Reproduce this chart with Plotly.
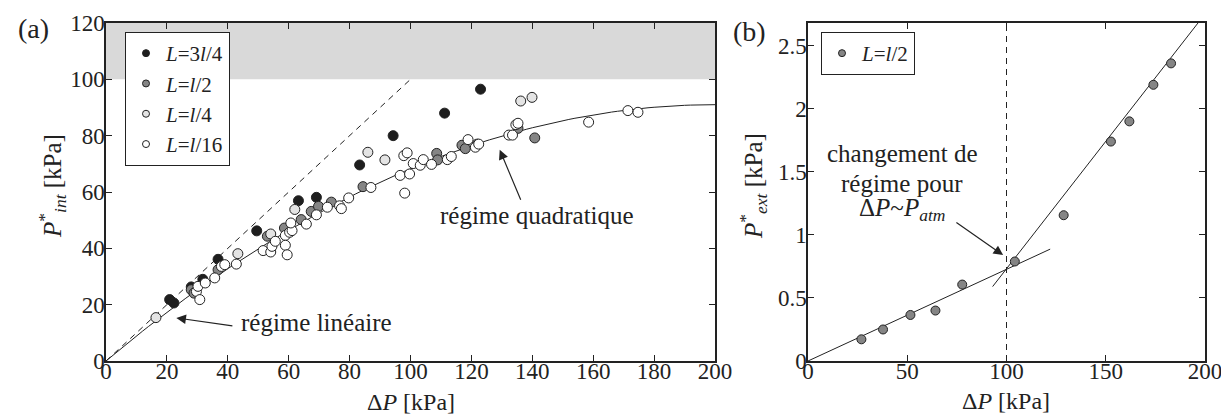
import plotly.graph_objects as go

# ---------------- Panel (a) data ----------------
black_x = [20.9, 22.3, 28.0, 31.8, 36.8, 49.5, 63.2, 69.1, 83.3, 94.3, 111.2, 123.0]
black_y = [21.8, 20.6, 26.3, 29.0, 36.1, 46.2, 56.9, 58.1, 69.6, 80.0, 88.0, 96.5]

dgray_x = [28.0, 28.9, 36.8, 53.0, 58.6, 64.1, 67.4, 69.8, 74.0, 84.4, 108.6, 108.9,
           116.9, 118.0, 121.9, 135.3, 140.8]
dgray_y = [25.3, 24.1, 32.4, 44.3, 47.2, 50.2, 53.1, 54.9, 56.4, 61.9, 73.7, 71.4,
           76.6, 75.4, 77.0, 82.6, 79.2]

lgray_x = [16.4, 43.3, 54.1, 62.0, 86.0, 91.6, 136.2, 139.9]
lgray_y = [15.4, 38.1, 45.1, 53.8, 74.1, 71.4, 92.3, 93.6]

white_x = [29.7, 30.2, 30.8, 32.6, 35.7, 37.9, 39.0, 42.8, 51.6, 54.1, 54.5, 55.6,
           58.9, 58.9, 59.5, 60.3, 61.1, 60.7, 65.8, 69.1, 72.7, 76.7, 77.3, 79.7,
           87.0, 96.6, 98.1, 99.7, 97.8, 98.9, 100.9, 103.2, 104.2, 106.9, 112.1,
           113.4, 118.9, 121.3, 122.4, 132.3, 133.5, 134.6, 135.3, 158.5, 171.4, 174.7]
white_y = [24.7, 26.5, 21.8, 27.7, 29.5, 33.6, 34.2, 34.4, 39.2, 38.7, 40.7, 42.5,
           44.6, 41.1, 37.7, 45.7, 46.3, 49.0, 48.6, 51.9, 54.6, 55.1, 54.1, 57.9,
           61.6, 65.9, 59.6, 66.4, 72.9, 73.9, 70.1, 69.5, 71.5, 69.8, 71.5,
           72.6, 78.6, 75.9, 77.0, 80.2, 80.2, 83.9, 84.4, 84.8, 88.9, 88.3]

# quadratic fit  y = a x - b x^2  and linear (slope 1) reference
quad_a, quad_b = 0.91, 0.002275
fit_x = [i * 2.0 for i in range(101)]
lin_x = [0, 100]

# ---------------- Panel (b) data ----------------
b_x = [26.9, 37.8, 51.6, 64.2, 77.7, 104.2, 128.8, 152.6, 161.9, 174.0, 182.9]
b_y = [0.172, 0.25, 0.365, 0.40, 0.606, 0.789, 1.156, 1.74, 1.90, 2.19, 2.36]

low_slope, low_x = 0.00727, [0, 122]
high_slope, high_x0, high_y0, high_x = 0.0202, 93.0, 0.59, [93.0, 196.5]

FONT = "Liberation Serif, Times New Roman, Tinos, DejaVu Serif, serif"
INK = "#222222"
TXT = 25

fig = go.Figure()

# ---- panel (a) ----
fig.add_trace(go.Scatter(x=lin_x, y=lin_x, mode="lines", showlegend=False,
                         line=dict(color=INK, width=1, dash="6px,5px"),
                         xaxis="x", yaxis="y"))
fig.add_trace(go.Scatter(x=fit_x, y=[quad_a * v - quad_b * v * v for v in fit_x],
                         mode="lines", showlegend=False,
                         line=dict(color=INK, width=1), xaxis="x", yaxis="y"))

series = [
    ("<i>L</i>=3<i>l</i>/4", black_x, black_y, "#1e1e1e"),
    ("<i>L</i>=<i>l</i>/2", dgray_x, dgray_y, "#858585"),
    ("<i>L</i>=<i>l</i>/4", lgray_x, lgray_y, "#e4e4e4"),
    ("<i>L</i>=<i>l</i>/16", white_x, white_y, "#ffffff"),
]
for name, xs, ys, col in series:
    fig.add_trace(go.Scatter(x=xs, y=ys, mode="markers", name=name, showlegend=False,
                             marker=dict(size=10, color=col, line=dict(color=INK, width=1)),
                             xaxis="x", yaxis="y"))
for name, xs, ys, col in series:
    fig.add_trace(go.Scatter(x=[None], y=[None], mode="markers", name=name,
                             legend="legend",
                             marker=dict(size=7, color=col, line=dict(color=INK, width=1)),
                             xaxis="x", yaxis="y"))

# ---- panel (b) ----
fig.add_trace(go.Scatter(x=[100, 100], y=[0, 2.68], mode="lines", showlegend=False,
                         line=dict(color=INK, width=1, dash="6px,5px"),
                         xaxis="x2", yaxis="y2"))
fig.add_trace(go.Scatter(x=low_x, y=[low_slope * v for v in low_x], mode="lines",
                         showlegend=False, line=dict(color=INK, width=1),
                         xaxis="x2", yaxis="y2"))
fig.add_trace(go.Scatter(x=high_x, y=[high_y0 + high_slope * (v - high_x0) for v in high_x],
                         mode="lines", showlegend=False, line=dict(color=INK, width=1),
                         xaxis="x2", yaxis="y2"))
fig.add_trace(go.Scatter(x=b_x, y=b_y, mode="markers", showlegend=False,
                         marker=dict(size=9, color="#858585", line=dict(color=INK, width=1)),
                         xaxis="x2", yaxis="y2"))
fig.add_trace(go.Scatter(x=[None], y=[None], mode="markers", name="<i>L</i>=<i>l</i>/2",
                         legend="legend2",
                         marker=dict(size=7, color="#858585", line=dict(color=INK, width=1)),
                         xaxis="x2", yaxis="y2"))

W, H = 1229, 415
ax_common = dict(showline=True, linecolor=INK, linewidth=1.5, mirror="allticks",
                 ticks="inside", ticklen=6, tickcolor=INK, tickwidth=1,
                 showgrid=False, zeroline=False, automargin=False,
                 tickfont=dict(family=FONT, size=23, color=INK))

fig.update_layout(
    width=W, height=H,
    margin=dict(l=0, r=0, t=0, b=0, pad=0, autoexpand=False),
    paper_bgcolor="white", plot_bgcolor="white",
    font=dict(family=FONT, size=21, color=INK),
    xaxis=dict(domain=[98 / W, 707 / W], range=[0, 200], tickvals=list(range(0, 201, 20)),
               anchor="y", ticklabelstandoff=-11, **ax_common),
    yaxis=dict(domain=[1 - 353 / H, 1 - 15 / H], range=[0, 120],
               tickvals=list(range(0, 121, 20)), anchor="x", ticklabelstandoff=-5, **ax_common),
    xaxis2=dict(domain=[800 / W, 1197 / W], range=[0, 200], tickvals=[0, 50, 100, 150, 200],
                anchor="y2", ticklabelstandoff=-11, **ax_common),
    yaxis2=dict(domain=[1 - 353 / H, 1 - 15 / H], range=[0, 2.68],
                tickvals=[0, 0.5, 1, 1.5, 2, 2.5], ticktext=["0", "0.5", "1", "1.5", "2", "2.5"],
                anchor="x2", ticklabelstandoff=-5, **ax_common),
    legend=dict(x=117 / W, y=1 - 24 / H, xanchor="left", yanchor="top",
                bgcolor="white", bordercolor=INK, borderwidth=1,
                font=dict(family=FONT, size=21, color=INK)),
    legend2=dict(x=813 / W, y=1 - 24 / H, xanchor="left", yanchor="top",
                 bgcolor="white", bordercolor=INK, borderwidth=1,
                 font=dict(family=FONT, size=21, color=INK)),
    shapes=[dict(type="rect", xref="x", yref="y", x0=0, x1=200, y0=100, y1=120,
                 fillcolor="#d9d9d9", line=dict(width=0), layer="below")],
)


def label(text, x, y, size=TXT, xref="paper", yref="paper", **kw):
    if xref == "paper":
        x = x / W
    if yref == "paper":
        y = 1 - y / H
    return dict(text=text, x=x, y=y, xref=xref, yref=yref, xanchor="center",
                yanchor="middle", showarrow=False, font=dict(family=FONT, size=size, color=INK), **kw)


def arrow(x, y, ax, ay, xref, yref):
    return dict(text="", x=x, y=y, ax=ax, ay=ay, xref=xref, yref=yref, axref=xref, ayref=yref,
                showarrow=True, arrowhead=2, arrowsize=1.6, arrowwidth=1.2, arrowcolor=INK)


ann = [
    # axis titles
    label("Δ<i>P</i> [kPa]", 402.5, 394, size=24),
    label("Δ<i>P</i> [kPa]", 998.5, 393, size=24),
    label("<i>P</i><sup>*</sup><sub><i>int</i></sub> [kPa]", 44, 178, textangle=-90),
    label("<i>P</i><sup>*</sup><sub><i>ext</i></sub> [kPa]", 745, 178, textangle=-90),
    # panel labels
    label("(a)", 26, 20, size=28),
    label("(b)", 741, 23, size=28),
    # panel (a) regimes
    label("régime linéaire", 69.0, 13.5, xref="x", yref="y"),
    arrow(23.1, 15.3, 42.0, 12.4, "x", "y"),
    label("régime quadratique", 141.5, 51.5, xref="x", yref="y"),
    arrow(129.3, 75.0, 136.4, 56.7, "x", "y"),
    # panel (b)
    label("changement de", 47.4, 1.648, xref="x2", yref="y2"),
    label("régime pour", 47.4, 1.41, xref="x2", yref="y2"),
    label("Δ<i>P</i>~<i>P</i><sub><i>atm</i></sub>", 47.4, 1.20, xref="x2", yref="y2"),
    arrow(98.3, 0.84, 74.0, 1.106, "x2", "y2"),
]
fig.update_layout(annotations=ann)

fig.write_html("out.html")
